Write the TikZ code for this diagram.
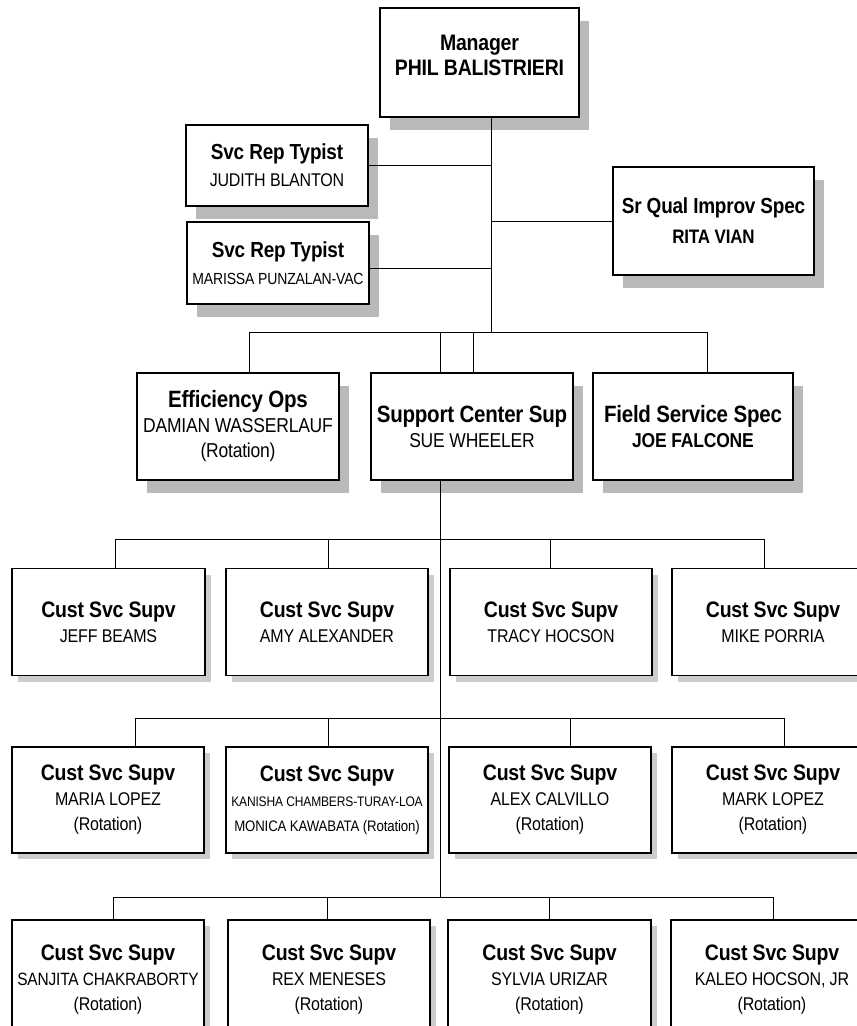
\documentclass[tikz,border=0pt]{standalone}
\usepackage{fontspec}
\setmainfont{Liberation Sans}[LetterSpace=-1, FakeStretch=0.87]
\usetikzlibrary{shadows}
% bold position title at a given size
\newcommand\ttl[2][22.4]{{\fontsize{#1}{25}\selectfont\bfseries #2}}
\newcommand\nm[2][18.4]{{\fontsize{#1}{25}\selectfont #2}}
\begin{document}
\begin{tikzpicture}[x=1pt,y=-1pt,
  box/.style={draw=black, line width=1.2pt, fill=white, rectangle, inner sep=0pt,
              align=center, font=\fontsize{18.4}{25}\selectfont},
  bigshadow/.style={drop shadow={shadow xshift=10pt, shadow yshift=-13pt, fill=gray!55, opacity=1}},
  smallshadow/.style={drop shadow={shadow xshift=6pt, shadow yshift=-6pt, fill=gray!40, opacity=1}},
  top/.style={box, bigshadow},
  row/.style={box, smallshadow, minimum width=202pt},
  txt/.style={align=center, inner sep=0pt},
  link/.style={draw=black, line width=1pt},
]
\useasboundingbox (0,0) rectangle (857,1026);
\fill[white] (0,0) rectangle (857,1026);
\clip (0,0) rectangle (857,1026);

% ---------- upper management ----------
\node[top, minimum width=199pt, minimum height=109pt] (mgr) at (479.5,62.5) {};
\node[txt, font=\fontsize{22.4}{25}\selectfont\bfseries] (mgrt) at ([yshift=7pt]mgr.center)
  {Manager\\PHIL BALISTRIERI};

\node[top, minimum width=182pt, minimum height=81pt, font=\fontsize{18.4}{27}\selectfont] (jud) at (277,165.5)
  {\ttl[21.8]{Svc Rep Typist}\\JUDITH BLANTON};
\node[top, minimum width=182pt, minimum height=82pt, font=\fontsize{18.4}{27}\selectfont] (mar) at (278,263)
  {\ttl[21.8]{Svc Rep Typist}\\\nm[16.1]{MARISSA PUNZALAN-VAC}};
\node[top, minimum width=201pt, minimum height=108pt, font=\fontsize{18.4}{30}\selectfont] (rita) at (713.5,221)
  {\ttl[21.8]{Sr Qual Improv Spec}\\\ttl[19.5]{RITA VIAN}};

% ---------- second level ----------
\node[top, minimum width=202pt, minimum height=107pt, font=\fontsize{20.1}{25}\selectfont] (eff) at (238,426.5)
  {\ttl[23.6]{Efficiency Ops}\\DAMIAN WASSERLAUF\\(Rotation)};
\node[top, minimum width=202pt, minimum height=107pt, font=\fontsize{20.1}{25}\selectfont] (sup) at (472,426.5)
  {\ttl[23.6]{Support Center Sup}\\SUE WHEELER};
\node[top, minimum width=200pt, minimum height=107pt, font=\fontsize{20.1}{25}\selectfont] (fld) at (693,426.5)
  {\ttl[23.6]{Field Service Spec}\\\ttl[20.1]{JOE FALCONE}};

% ---------- customer service supervisors, row 1 ----------
\node[row, minimum width=193pt, minimum height=107pt] (jeff)  at (108.5,622) {\ttl{Cust Svc Supv}\\JEFF BEAMS};
\node[row, minimum height=107pt] (amy)   at (327,622) {\ttl{Cust Svc Supv}\\AMY ALEXANDER};
\node[row, minimum height=107pt] (tracy) at (551,622) {\ttl{Cust Svc Supv}\\TRACY HOCSON};
\node[row, minimum height=107pt] (mike)  at (773,622) {\ttl{Cust Svc Supv}\\MIKE PORRIA};

% ---------- row 2 ----------
\node[row, minimum width=192pt, minimum height=106pt] (maria) at (108,800) {\ttl{Cust Svc Supv}\\MARIA LOPEZ\\(Rotation)};
\node[row, minimum height=106pt] (kan) at (327,800)
  {\ttl{Cust Svc Supv}\\\nm[13.8]{KANISHA CHAMBERS-TURAY-LOA}\\\nm[15.2]{MONICA KAWABATA (Rotation)}};
\node[row, minimum height=106pt] (alex) at (550,800) {\ttl{Cust Svc Supv}\\ALEX CALVILLO\\(Rotation)};
\node[row, minimum height=106pt] (mark) at (773,800) {\ttl{Cust Svc Supv}\\MARK LOPEZ\\(Rotation)};

% ---------- row 3 ----------
\node[row, minimum width=192pt, minimum height=120pt] (san) at (108,980)
  {\ttl{Cust Svc Supv}\\\nm[17.8]{SANJITA CHAKRABORTY}\\(Rotation)};
\node[row, minimum height=120pt] (rex)  at (329,980) {\ttl{Cust Svc Supv}\\REX MENESES\\(Rotation)};
\node[row, minimum width=203pt, minimum height=120pt] (syl) at (549.5,980) {\ttl{Cust Svc Supv}\\SYLVIA URIZAR\\(Rotation)};
\node[row, minimum height=120pt] (kal)  at (772,980) {\ttl{Cust Svc Supv}\\KALEO HOCSON, JR\\(Rotation)};

% ---------- connectors ----------
\coordinate (tk) at (491,332);
\draw[link] (mgr.south -| tk) -- (tk);
\draw[link] (jud.east) -- (jud.east -| tk);
\draw[link] ([yshift=-5pt]mar.east) -- ([yshift=-5pt]mar.east -| tk);
\draw[link] (rita.west) -- (rita.west -| tk);

\coordinate (mbL) at (249,332);
\coordinate (mbR) at (707,332);
\coordinate (sa) at (440,332);
\coordinate (sb) at (473,332);
\draw[link] (mbL) -- (mbR);
\draw[link] (mbL) -- (mbL |- eff.north);
\draw[link] (sa) -- (sa |- sup.north);
\draw[link] (sb) -- (sb |- sup.north);
\draw[link] (mbR) -- (mbR |- fld.north);

\coordinate (lt) at (440,897);
\draw[link] (sa |- sup.south) -- (lt);

% row 1 bus
\coordinate (d11) at (115,539);
\coordinate (d12) at (328,539);
\coordinate (d13) at (550,539);
\coordinate (d14) at (764,539);
\draw[link] (d11) -- (d14);
\draw[link] (d11) -- (d11 |- jeff.north);
\draw[link] (d12) -- (d12 |- amy.north);
\draw[link] (d13) -- (d13 |- tracy.north);
\draw[link] (d14) -- (d14 |- mike.north);

% row 2 bus
\coordinate (d21) at (135,718);
\coordinate (d22) at (328,718);
\coordinate (d23) at (570,718);
\coordinate (d24) at (784,718);
\draw[link] (d21) -- (d24);
\draw[link] (d21) -- (d21 |- maria.north);
\draw[link] (d22) -- (d22 |- kan.north);
\draw[link] (d23) -- (d23 |- alex.north);
\draw[link] (d24) -- (d24 |- mark.north);

% row 3 bus
\coordinate (d31) at (113,897);
\coordinate (d32) at (327,897);
\coordinate (d33) at (549,897);
\coordinate (d34) at (773,897);
\draw[link] (d31) -- (d34);
\draw[link] (d31) -- (d31 |- san.north);
\draw[link] (d32) -- (d32 |- rex.north);
\draw[link] (d33) -- (d33 |- syl.north);
\draw[link] (d34) -- (d34 |- kal.north);
\end{tikzpicture}
\end{document}
